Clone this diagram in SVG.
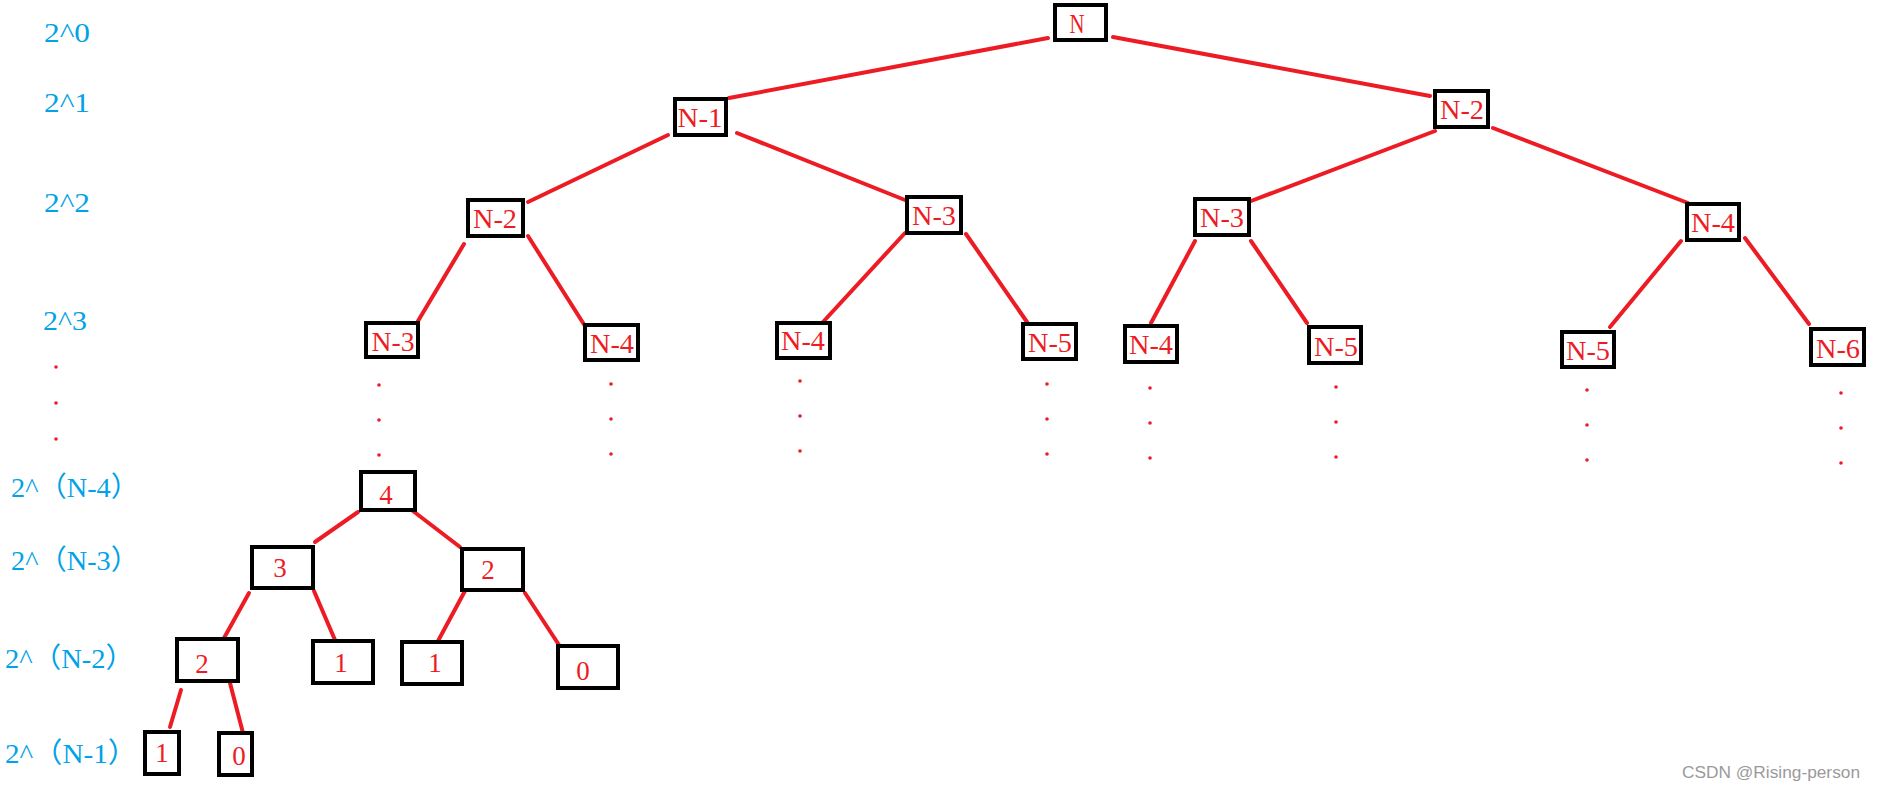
<svg xmlns="http://www.w3.org/2000/svg" width="1880" height="792" viewBox="0 0 1880 792">
<style>
.box{fill:#fff;stroke:#000;stroke-width:4}
.t{font-family:"Liberation Serif","Noto Sans CJK SC",serif;font-size:28px;fill:#ed1c24;text-anchor:middle}
.dg{font-size:27px}
.lv{font-family:"Liberation Serif","Noto Sans CJK SC",serif;font-size:28px;fill:#00a2e8}
.e{stroke:#ed1c24;stroke-width:4;stroke-linecap:round;fill:none}
.d{fill:#ed1c24}
.wm{font-family:"Liberation Sans",Arial,sans-serif;font-size:16px;fill:#9a9a9a}
</style>
<rect width="1880" height="792" fill="#fff"/>
<g id="levels">
<text class="lv" x="44" y="42" textLength="46" lengthAdjust="spacingAndGlyphs">2^0</text>
<text class="lv" x="44" y="112" textLength="46" lengthAdjust="spacingAndGlyphs">2^1</text>
<text class="lv" x="44" y="212" textLength="46" lengthAdjust="spacingAndGlyphs">2^2</text>
<text class="lv" x="43" y="330" textLength="44" lengthAdjust="spacingAndGlyphs">2^3</text>
<text class="lv" x="11" y="497" textLength="128" lengthAdjust="spacingAndGlyphs">2^（N-4）</text>
<text class="lv" x="11" y="570" textLength="128" lengthAdjust="spacingAndGlyphs">2^（N-3）</text>
<text class="lv" x="5" y="668" textLength="129" lengthAdjust="spacingAndGlyphs">2^（N-2）</text>
<text class="lv" x="5" y="763" textLength="132" lengthAdjust="spacingAndGlyphs">2^（N-1）</text>
</g>
<g id="connectors">
<line class="e" x1="1048" y1="38" x2="729" y2="98"/>
<line class="e" x1="1113" y1="37" x2="1430" y2="96"/>
<line class="e" x1="668" y1="135" x2="528" y2="202"/>
<line class="e" x1="737" y1="133" x2="905" y2="200"/>
<line class="e" x1="1435" y1="131" x2="1251" y2="201"/>
<line class="e" x1="1493" y1="128" x2="1688" y2="203"/>
<line class="e" x1="464" y1="244" x2="418" y2="321"/>
<line class="e" x1="528" y1="236" x2="585" y2="326"/>
<line class="e" x1="905" y1="233" x2="823" y2="322"/>
<line class="e" x1="966" y1="234" x2="1027" y2="322"/>
<line class="e" x1="1195" y1="241" x2="1151" y2="323"/>
<line class="e" x1="1251" y1="241" x2="1307" y2="323"/>
<line class="e" x1="1681" y1="241" x2="1610" y2="327"/>
<line class="e" x1="1745" y1="238" x2="1809" y2="324"/>
<line class="e" x1="358" y1="512" x2="315" y2="542"/>
<line class="e" x1="413" y1="511" x2="460" y2="547"/>
<line class="e" x1="249" y1="593" x2="224" y2="638"/>
<line class="e" x1="314" y1="591" x2="335" y2="640"/>
<line class="e" x1="466" y1="589" x2="438" y2="641"/>
<line class="e" x1="525" y1="593" x2="559" y2="645"/>
<line class="e" x1="181" y1="690" x2="170" y2="727"/>
<line class="e" x1="230" y1="683" x2="243" y2="733"/>
</g>
<g id="dots">
<circle class="d" cx="56" cy="367" r="1.8"/><circle class="d" cx="56" cy="403" r="1.8"/><circle class="d" cx="56" cy="439" r="1.8"/>
<circle class="d" cx="379" cy="385" r="1.8"/><circle class="d" cx="379" cy="420" r="1.8"/><circle class="d" cx="379" cy="455" r="1.8"/>
<circle class="d" cx="611" cy="384" r="1.8"/><circle class="d" cx="611" cy="419" r="1.8"/><circle class="d" cx="611" cy="454" r="1.8"/>
<circle class="d" cx="800" cy="381" r="1.8"/><circle class="d" cx="800" cy="416" r="1.8"/><circle class="d" cx="800" cy="451" r="1.8"/>
<circle class="d" cx="1047" cy="384" r="1.8"/><circle class="d" cx="1047" cy="419" r="1.8"/><circle class="d" cx="1047" cy="454" r="1.8"/>
<circle class="d" cx="1150" cy="388" r="1.8"/><circle class="d" cx="1150" cy="423" r="1.8"/><circle class="d" cx="1150" cy="458" r="1.8"/>
<circle class="d" cx="1336" cy="387" r="1.8"/><circle class="d" cx="1336" cy="422" r="1.8"/><circle class="d" cx="1336" cy="457" r="1.8"/>
<circle class="d" cx="1587" cy="390" r="1.8"/><circle class="d" cx="1587" cy="425" r="1.8"/><circle class="d" cx="1587" cy="460" r="1.8"/>
<circle class="d" cx="1841" cy="393" r="1.8"/><circle class="d" cx="1841" cy="428" r="1.8"/><circle class="d" cx="1841" cy="463" r="1.8"/>
</g>
<g id="n0"><rect class="box" x="1055" y="5" width="51" height="35"/><text class="t" x="1077" y="33" textLength="15" lengthAdjust="spacingAndGlyphs">N</text></g>
<g id="n1"><rect class="box" x="675" y="99" width="51" height="36"/><text class="t" x="700" y="127" textLength="45" lengthAdjust="spacingAndGlyphs">N-1</text></g>
<g id="n2"><rect class="box" x="1435" y="91" width="53" height="36"/><text class="t" x="1462" y="119" textLength="44" lengthAdjust="spacingAndGlyphs">N-2</text></g>
<g id="n3"><rect class="box" x="468" y="200" width="55" height="36"/><text class="t" x="495" y="228" textLength="44" lengthAdjust="spacingAndGlyphs">N-2</text></g>
<g id="n4"><rect class="box" x="907" y="197" width="54" height="36"/><text class="t" x="934" y="225" textLength="44" lengthAdjust="spacingAndGlyphs">N-3</text></g>
<g id="n5"><rect class="box" x="1195" y="199" width="54" height="36"/><text class="t" x="1222" y="227" textLength="44" lengthAdjust="spacingAndGlyphs">N-3</text></g>
<g id="n6"><rect class="box" x="1687" y="204" width="52" height="36"/><text class="t" x="1713" y="232" textLength="44" lengthAdjust="spacingAndGlyphs">N-4</text></g>
<g id="n7"><rect class="box" x="366" y="323" width="52" height="34"/><text class="t" x="393" y="351" textLength="43" lengthAdjust="spacingAndGlyphs">N-3</text></g>
<g id="n8"><rect class="box" x="585" y="325" width="53" height="35"/><text class="t" x="612" y="353" textLength="44" lengthAdjust="spacingAndGlyphs">N-4</text></g>
<g id="n9"><rect class="box" x="777" y="323" width="53" height="35"/><text class="t" x="803" y="350" textLength="44" lengthAdjust="spacingAndGlyphs">N-4</text></g>
<g id="n10"><rect class="box" x="1023" y="324" width="53" height="35"/><text class="t" x="1050" y="352" textLength="44" lengthAdjust="spacingAndGlyphs">N-5</text></g>
<g id="n11"><rect class="box" x="1125" y="326" width="52" height="36"/><text class="t" x="1151" y="354" textLength="44" lengthAdjust="spacingAndGlyphs">N-4</text></g>
<g id="n12"><rect class="box" x="1309" y="327" width="52" height="36"/><text class="t" x="1336" y="356" textLength="44" lengthAdjust="spacingAndGlyphs">N-5</text></g>
<g id="n13"><rect class="box" x="1562" y="332" width="52" height="35"/><text class="t" x="1588" y="360" textLength="44" lengthAdjust="spacingAndGlyphs">N-5</text></g>
<g id="n14"><rect class="box" x="1811" y="329" width="53" height="36"/><text class="t" x="1838" y="358" textLength="44" lengthAdjust="spacingAndGlyphs">N-6</text></g>
<g id="b4"><rect class="box" x="361" y="472" width="54" height="38"/><text class="t dg" x="386" y="504">4</text></g>
<g id="b3"><rect class="box" x="252" y="547" width="61" height="41"/><text class="t dg" x="280" y="577">3</text></g>
<g id="b2r"><rect class="box" x="462" y="549" width="61" height="41"/><text class="t dg" x="488" y="579">2</text></g>
<g id="b2l"><rect class="box" x="177" y="639" width="61" height="42"/><text class="t dg" x="202" y="673">2</text></g>
<g id="b1a"><rect class="box" x="313" y="641" width="60" height="42"/><text class="t dg" x="341" y="672">1</text></g>
<g id="b1b"><rect class="box" x="402" y="642" width="60" height="42"/><text class="t dg" x="435" y="672">1</text></g>
<g id="b0"><rect class="box" x="558" y="646" width="60" height="42"/><text class="t dg" x="583" y="680">0</text></g>
<g id="b1c"><rect class="box" x="145" y="732" width="34" height="42"/><text class="t dg" x="162" y="762">1</text></g>
<g id="b0c"><rect class="box" x="219" y="733" width="33" height="42"/><text class="t dg" x="239" y="765">0</text></g>
<text class="wm" x="1682" y="778" textLength="178" lengthAdjust="spacingAndGlyphs">CSDN @Rising-person</text>
</svg>
